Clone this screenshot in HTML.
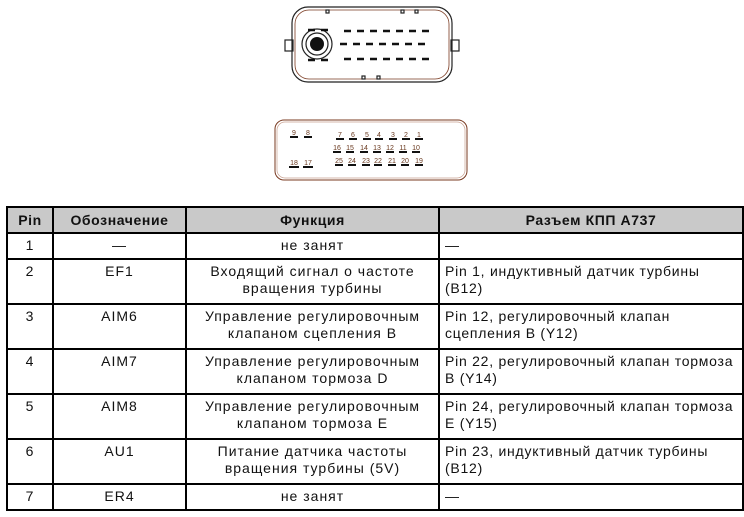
<!DOCTYPE html>
<html><head><meta charset="utf-8"><style>
body{margin:0;width:744px;height:517px;background:#fff;position:relative;overflow:hidden;font-family:"Liberation Sans",Arial,sans-serif;}
table{position:absolute;left:6px;top:206px;width:736px;border-collapse:collapse;table-layout:fixed;font-size:14px;color:#111;letter-spacing:1px;}
td,th{border:2px solid #000;padding:0 4px;line-height:17px;vertical-align:top;white-space:nowrap;overflow:hidden;}
th{background:#c9c9c9;font-weight:bold;height:24px;vertical-align:middle;text-align:center;letter-spacing:0.6px;}
td.c{text-align:center;}
td.r{letter-spacing:0.75px;padding-left:5px;}
tr.s td{height:21px;padding-top:3px;}
tr.d td{height:40px;padding-top:3px;}
</style></head><body>
<svg width="744" height="200" style="position:absolute;left:0;top:0">
<g fill="none" stroke="#222" stroke-width="1.2">
<rect x="292" y="7" width="160" height="75" rx="16"/>
<rect x="295" y="10" width="154" height="69" rx="14" stroke="#7a3b22" stroke-width="0.8"/>
<rect x="285" y="40" width="8" height="11"/>
<rect x="451" y="40" width="8" height="11"/>
<rect x="326" y="10" width="3" height="3"/><rect x="401" y="10" width="3" height="3"/><rect x="415" y="10" width="3" height="3"/>
<rect x="362" y="76" width="3" height="3"/><rect x="377" y="76" width="3" height="3"/>
<circle cx="317" cy="44" r="15"/><circle cx="317" cy="44" r="11"/>
</g>
<circle cx="317" cy="44" r="7" fill="#111"/>
<g stroke="#111" stroke-width="2.5" stroke-dasharray="7,6">
<line x1="308" y1="30" x2="328" y2="30"/><line x1="308" y1="60" x2="328" y2="60"/>
<line x1="344" y1="31" x2="432" y2="31"/><line x1="340" y1="44" x2="428" y2="44"/><line x1="344" y1="59" x2="432" y2="59"/>
</g>
<rect x="275" y="120" width="192" height="60" rx="9" fill="none" stroke="#7a3b22" stroke-width="1"/>
<rect x="277" y="122" width="188" height="56" rx="8" fill="none" stroke="#c7a090" stroke-width="0.7"/>
<g font-family="Liberation Sans" font-size="7" fill="#6a3a20" text-anchor="middle">
<text x="294" y="135">9</text><text x="308" y="135">8</text>
<text x="340" y="137">7</text><text x="353" y="137">6</text><text x="367" y="137">5</text><text x="379" y="137">4</text><text x="393" y="137">3</text><text x="406" y="137">2</text><text x="419" y="137">1</text>
<text x="337" y="150">16</text><text x="350" y="150">15</text><text x="364" y="150">14</text><text x="377" y="150">13</text><text x="390" y="150">12</text><text x="403" y="150">11</text><text x="416" y="150">10</text>
<text x="339" y="163">25</text><text x="352" y="163">24</text><text x="366" y="163">23</text><text x="378" y="163">22</text><text x="392" y="163">21</text><text x="405" y="163">20</text><text x="419" y="163">19</text>
<text x="294" y="165">18</text><text x="308" y="165">17</text>
</g>
<g stroke="#111" stroke-width="2">
<line x1="290" y1="137" x2="298" y2="137"/><line x1="304" y1="137" x2="312" y2="137"/>
<line x1="336" y1="139" x2="344" y2="139"/><line x1="349" y1="139" x2="357" y2="139"/><line x1="363" y1="139" x2="371" y2="139"/><line x1="375" y1="139" x2="383" y2="139"/><line x1="389" y1="139" x2="397" y2="139"/><line x1="402" y1="139" x2="410" y2="139"/><line x1="415" y1="139" x2="423" y2="139"/>
<line x1="333" y1="152" x2="341" y2="152"/><line x1="346" y1="152" x2="354" y2="152"/><line x1="360" y1="152" x2="368" y2="152"/><line x1="373" y1="152" x2="381" y2="152"/><line x1="386" y1="152" x2="394" y2="152"/><line x1="399" y1="152" x2="407" y2="152"/><line x1="412" y1="152" x2="420" y2="152"/>
<line x1="335" y1="165" x2="343" y2="165"/><line x1="348" y1="165" x2="356" y2="165"/><line x1="362" y1="165" x2="370" y2="165"/><line x1="374" y1="165" x2="382" y2="165"/><line x1="388" y1="165" x2="396" y2="165"/><line x1="401" y1="165" x2="409" y2="165"/><line x1="415" y1="165" x2="423" y2="165"/>
<line x1="289" y1="167" x2="299" y2="167"/><line x1="303" y1="167" x2="313" y2="167"/>
</g>
</svg>
<table>
<colgroup><col style="width:46px"><col style="width:133px"><col style="width:253px"><col style="width:304px"></colgroup>
<tr><th>Pin</th><th>Обозначение</th><th>Функция</th><th>Разъем КПП A737</th></tr>
<tr class="s"><td class="c">1</td><td class="c">—</td><td class="c">не занят</td><td class="r">—</td></tr>
<tr class="d"><td class="c">2</td><td class="c">EF1</td><td class="c">Входящий сигнал о частоте<br>вращения турбины</td><td class="r">Pin 1, индуктивный датчик турбины<br>(B12)</td></tr>
<tr class="d"><td class="c">3</td><td class="c">AIM6</td><td class="c">Управление регулировочным<br>клапаном сцепления B</td><td class="r">Pin 12, регулировочный клапан<br>сцепления B (Y12)</td></tr>
<tr class="d"><td class="c">4</td><td class="c">AIM7</td><td class="c">Управление регулировочным<br>клапаном тормоза D</td><td class="r">Pin 22, регулировочный клапан тормоза<br>B (Y14)</td></tr>
<tr class="d"><td class="c">5</td><td class="c">AIM8</td><td class="c">Управление регулировочным<br>клапаном тормоза E</td><td class="r">Pin 24, регулировочный клапан тормоза<br>E (Y15)</td></tr>
<tr class="d"><td class="c">6</td><td class="c">AU1</td><td class="c">Питание датчика частоты<br>вращения турбины (5V)</td><td class="r">Pin 23, индуктивный датчик турбины<br>(B12)</td></tr>
<tr class="s"><td class="c">7</td><td class="c">ER4</td><td class="c">не занят</td><td class="r">—</td></tr>
</table>
</body></html>
